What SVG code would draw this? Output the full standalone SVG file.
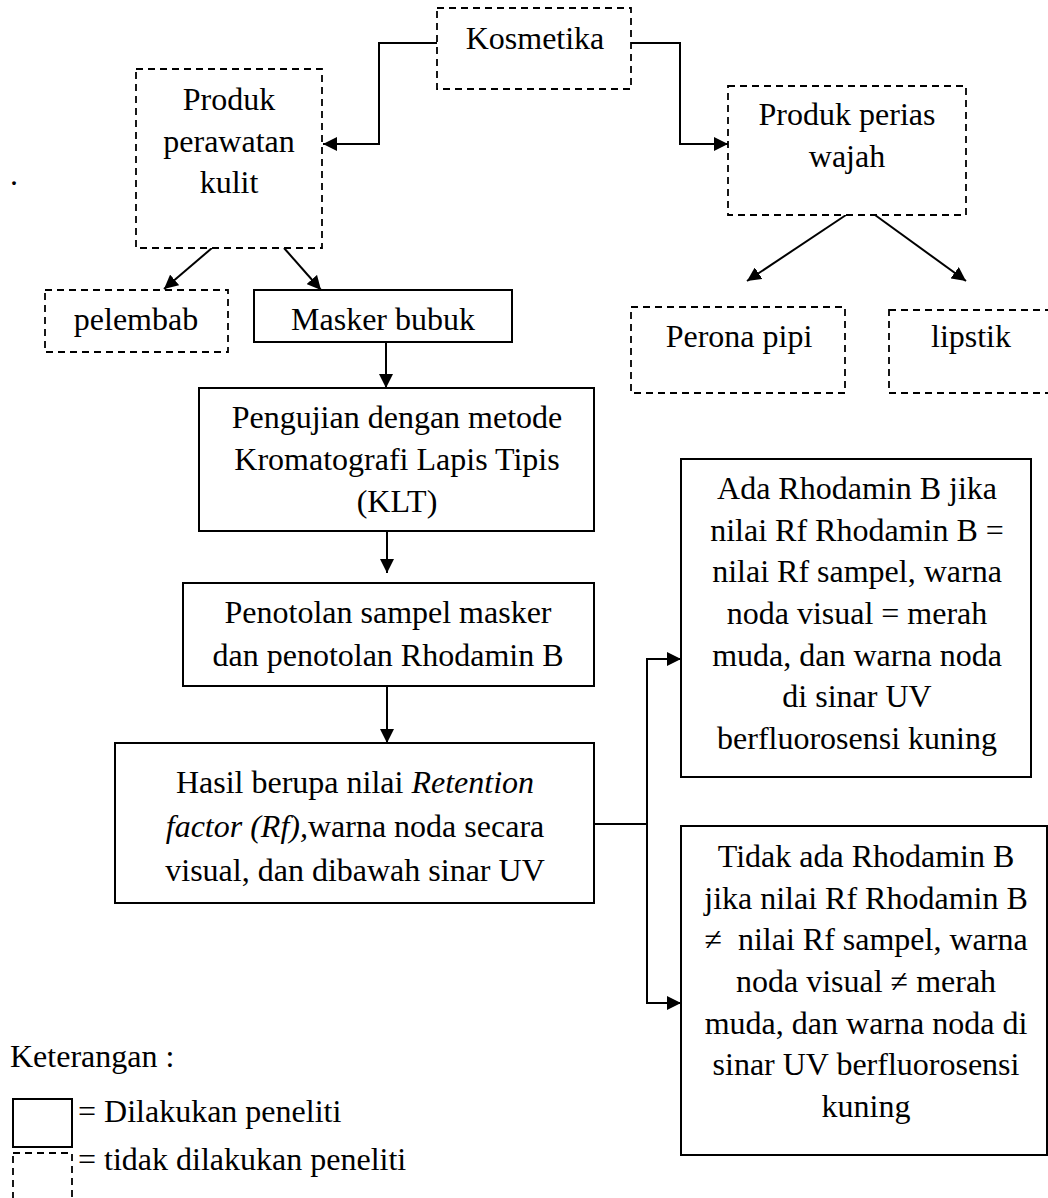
<svg xmlns="http://www.w3.org/2000/svg" width="1048" height="1198" viewBox="0 0 1048 1198">
<style>
  text { font-family: "Liberation Serif", "Times New Roman", serif; font-size: 32px; fill: #000; }
  .c { text-anchor: middle; }
  .solid { fill: #fff; stroke: #000; stroke-width: 2; }
  .dash { fill: #fff; stroke: #000; stroke-width: 1.8; stroke-dasharray: 7 5; }
  .conn { fill: none; stroke: #000; stroke-width: 2; }
  .it { font-style: italic; }
</style>
<defs>
  <marker id="arr" viewBox="0 0 14 14" refX="14" refY="7" markerWidth="14" markerHeight="14" markerUnits="userSpaceOnUse" orient="auto">
    <path d="M0,0 L14,7 L0,14 Z" fill="#000"/>
  </marker>
</defs>
<rect width="1048" height="1198" fill="#fff"/>

<g id="connectors">
  <path class="conn" d="M437,43 H379 V144 H323" marker-end="url(#arr)"/>
  <path class="conn" d="M631,43 H680 V144 H728" marker-end="url(#arr)"/>
  <path class="conn" d="M212,248 L164,289" marker-end="url(#arr)"/>
  <path class="conn" d="M284,248 L321,290" marker-end="url(#arr)"/>
  <path class="conn" d="M846,215 L747,281" marker-end="url(#arr)"/>
  <path class="conn" d="M875,215 L966,281" marker-end="url(#arr)"/>
  <path class="conn" d="M386,342 V388" marker-end="url(#arr)"/>
  <path class="conn" d="M387,531 V573" marker-end="url(#arr)"/>
  <path class="conn" d="M387,686 V743" marker-end="url(#arr)"/>
  <path class="conn" d="M594,824 H647"/>
  <path class="conn" d="M647,824 V659 H681" marker-end="url(#arr)"/>
  <path class="conn" d="M647,824 V1003 H681" marker-end="url(#arr)"/>
</g>

<g id="kosmetika">
  <rect class="dash" x="437" y="8" width="194" height="81"/>
  <text class="c" x="535" y="49">Kosmetika</text>
</g>
<g id="produk-perawatan">
  <rect class="dash" x="136" y="69" width="186" height="179"/>
  <text class="c" x="229" y="110">Produk</text>
  <text class="c" x="229" y="152">perawatan</text>
  <text class="c" x="229" y="193">kulit</text>
</g>
<g id="produk-perias">
  <rect class="dash" x="728" y="86" width="238" height="129"/>
  <text class="c" x="847" y="125">Produk perias</text>
  <text class="c" x="847" y="167">wajah</text>
</g>
<g id="pelembab">
  <rect class="dash" x="45" y="290" width="183" height="62"/>
  <text class="c" x="136" y="330">pelembab</text>
</g>
<g id="masker">
  <rect class="solid" x="254" y="290" width="258" height="52"/>
  <text class="c" x="383" y="330">Masker bubuk</text>
</g>
<g id="perona">
  <rect class="dash" x="631" y="307" width="214" height="86"/>
  <text class="c" x="739" y="347">Perona pipi</text>
</g>
<g id="lipstik">
  <rect class="dash" x="889" y="310" width="160" height="83"/>
  <text class="c" x="971" y="347">lipstik</text>
</g>
<g id="pengujian">
  <rect class="solid" x="199" y="388" width="395" height="143"/>
  <text class="c" x="397" y="428">Pengujian dengan metode</text>
  <text class="c" x="397" y="470">Kromatografi Lapis Tipis</text>
  <text class="c" x="397" y="512">(KLT)</text>
</g>
<g id="penotolan">
  <rect class="solid" x="183" y="583" width="411" height="103"/>
  <text class="c" x="388" y="623">Penotolan sampel masker</text>
  <text class="c" x="388" y="666">dan penotolan Rhodamin B</text>
</g>
<g id="hasil">
  <rect class="solid" x="115" y="743" width="479" height="160"/>
  <text class="c" x="355" y="793">Hasil berupa nilai <tspan class="it">Retention</tspan></text>
  <text class="c" x="355" y="837"><tspan class="it">factor (Rf),</tspan>warna noda secara</text>
  <text class="c" x="355" y="881">visual, dan dibawah sinar UV</text>
</g>
<g id="ada">
  <rect class="solid" x="681" y="459" width="350" height="318"/>
  <text class="c" x="857" y="499">Ada Rhodamin B jika</text>
  <text class="c" x="857" y="541">nilai Rf Rhodamin B =</text>
  <text class="c" x="857" y="582">nilai Rf sampel, warna</text>
  <text class="c" x="857" y="624">noda visual = merah</text>
  <text class="c" x="857" y="666">muda, dan warna noda</text>
  <text class="c" x="857" y="707">di sinar UV</text>
  <text class="c" x="857" y="749">berfluorosensi kuning</text>
</g>
<g id="tidak">
  <rect class="solid" x="681" y="826" width="366" height="329"/>
  <text class="c" x="866" y="867">Tidak ada Rhodamin B</text>
  <text class="c" x="866" y="909">jika nilai Rf Rhodamin B</text>
  <text class="c" x="866" y="950">≠ &#160;nilai Rf sampel, warna</text>
  <text class="c" x="866" y="992">noda visual ≠ merah</text>
  <text class="c" x="866" y="1034">muda, dan warna noda di</text>
  <text class="c" x="866" y="1075">sinar UV berfluorosensi</text>
  <text class="c" x="866" y="1117">kuning</text>
</g>

<text x="10" y="185">.</text>

<g id="legend">
  <text x="10" y="1067">Keterangan :</text>
  <rect class="solid" x="13" y="1099" width="59" height="48" stroke-width="1.8"/>
  <text x="78" y="1122">= Dilakukan peneliti</text>
  <rect class="dash" x="13" y="1153" width="59" height="60"/>
  <text x="78" y="1170">= tidak dilakukan peneliti</text>
</g>
</svg>
